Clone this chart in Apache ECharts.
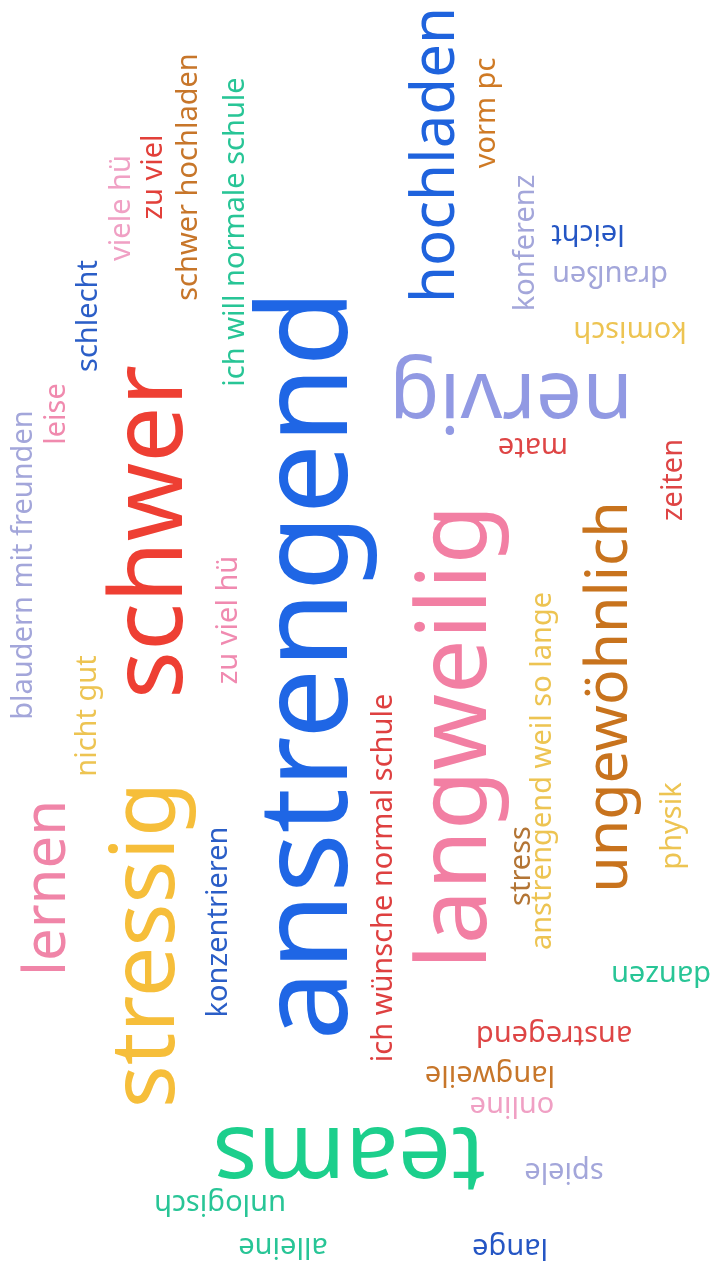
<!DOCTYPE html>
<html>
<head>
<meta charset="utf-8">
<script src="https://cdn.jsdelivr.net/npm/echarts@6/dist/echarts.min.js"></script>
<style>
  html, body { margin: 0; padding: 0; background: #fff; }
  #chart { width: 715px; height: 1268px; }
</style>
</head>
<body>
<div id="chart"></div>
<script>
// words of the cloud and their weight (rendered font size)
var words = [
  "anstrengend", "schwer", "langweilig", "stressig", "teams", "nervig",
  "hochladen", "ungewöhnlich", "lernen",
  "blaudern mit freunden", "leise", "schlecht", "viele hü", "zu viel",
  "schwer hochladen", "ich will normale schule", "zu viel hü", "nicht gut",
  "konzentrieren", "ich wünsche normal schule", "vorm pc", "konferenz",
  "zeiten", "stress", "anstrengend weil so lange", "physik",
  "leicht", "draußen", "komisch", "mate", "danzen", "anstregend",
  "langweile", "online", "spiele", "unlogisch", "alleine", "lange"
];
var weights = [
  125, 100, 97, 90, 94, 82,
  60, 59, 58,
  29, 29, 29, 29, 29,
  29, 29, 29, 29,
  29, 29, 29, 29,
  29, 29, 29, 29,
  29, 29, 29, 29, 29, 29,
  29, 29, 29, 29, 29, 29
];
// layout of the cloud (word centre in the cloud's own space)
var cloudX = [
  311, 154, 458, 148, 349, 511,
  437, 610, 48,
  23.5, 56.5, 88.5, 121.5, 153.5,
  188.5, 235.5, 228.5, 87.5,
  218.5, 383.5, 486.5, 525.5,
  673.5, 521.5, 542.5, 672.5,
  588, 610, 630, 533, 661, 554,
  490, 512, 564, 220, 283, 510
];
var cloudY = [
  665, 532, 737, 945, 1155, 397,
  155, 697, 888,
  565, 414, 316, 208, 177,
  177, 232, 620, 716,
  922, 878, 113, 243,
  480, 866, 771, 826,
  233.5, 274.5, 330, 446, 974, 1034,
  1074, 1105, 1171, 1203, 1246, 1247
];
// 1 = turned upside down, 0 = reading upwards
var turned = [
  0, 0, 0, 0, 1, 1,
  0, 0, 0,
  0, 0, 0, 0, 0,
  0, 0, 0, 0,
  0, 0, 0, 0,
  0, 0, 0, 0,
  1, 1, 1, 1, 1, 1,
  1, 1, 1, 1, 1, 1
];
var colors = [
  "#1f66e5", "#ee3f33", "#f27fa3", "#f6be3a", "#1ccf8c", "#9199e3",
  "#1f63dd", "#c8731d", "#f085a8",
  "#a3a6da", "#f08aae", "#2b5ec7", "#f0a0c4", "#e2403a",
  "#c7762a", "#28c596", "#f08ab0", "#edc452",
  "#2b5ec7", "#de4040", "#cf7a25", "#a3a6da",
  "#de4545", "#b37535", "#edc452", "#edc452",
  "#2556c4", "#a3a6da", "#edc452", "#de4545", "#28c596", "#de4545",
  "#c7762a", "#f0a0c4", "#a3a6da", "#28c596", "#28c596", "#2556c4"
];

var data = [];
for (var i = 0; i < words.length; i++) {
  data.push({
    name: words[i],
    value: [cloudX[i], cloudY[i]],
    label: {
      rotate: turned[i] ? 180 : 90,
      fontSize: weights[i],
      color: colors[i]
    }
  });
}

var myChart = echarts.init(document.getElementById("chart"));
myChart.setOption({
  animation: false,
  backgroundColor: "#ffffff",
  grid: { left: 0, right: 0, top: 0, bottom: 0 },
  xAxis: { type: "value", min: 0, max: 715, show: false },
  yAxis: { type: "value", min: 0, max: 1268, inverse: true, show: false },
  series: [
    {
      type: "scatter",
      silent: true,
      symbolSize: 1,
      itemStyle: { color: "rgba(0,0,0,0)", opacity: 1 },
      label: {
        show: true,
        position: "inside",
        formatter: "{b}",
        fontFamily: "Noto Sans",
        fontWeight: "normal",
        align: "center",
        verticalAlign: "middle",
        opacity: 1,
        textBorderWidth: 0
      },
      data: data
    }
  ]
});
</script>
</body>
</html>
